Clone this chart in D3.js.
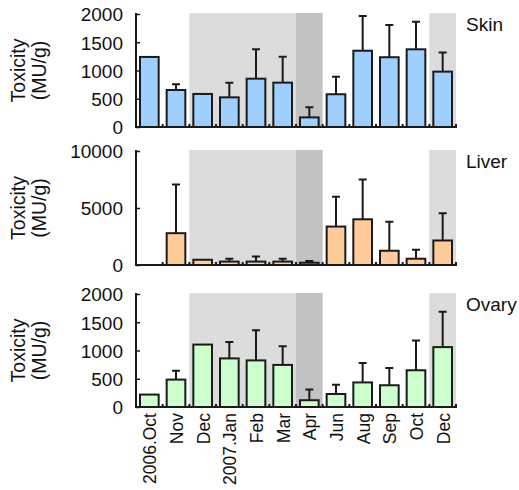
<!DOCTYPE html>
<html>
<head>
<meta charset="utf-8">
<title>Toxicity by month</title>
<script src="https://d3js.org/d3.v7.min.js"></script>
<style>
	body { margin:0; background:#fff; }
	svg text { font-family:"Liberation Sans", Arial, sans-serif; fill:#111; }
	.bar { stroke:#1a1a1a; stroke-width:2px; }
	.err { stroke:#1a1a1a; stroke-width:2px; fill:none; }
	.axisline { stroke:#1a1a1a; stroke-width:2px; }
</style>
</head>
<body>
<div class="chartContainer"></div>
<script>
// sampling months
var months = ["2006.Oct","Nov","Dec","2007.Jan","Feb","Mar","Apr","Jun","Aug","Sep","Oct","Dec"];
// keys are unique so the band scale keeps both "Oct" and both "Dec"
var monthKeys = months.map(function(m, i) { return i; });

// mean toxicity and SD (null = no error bar)
var skinMean  = [1240, 655, 585, 525, 855, 785, 170, 580, 1350, 1235, 1375, 980];
var skinSD    = [null, 100, null, 260, 520, 460, 180, 310, 615, 570, 490, 340];
var liverMean = [0, 2790, 460, 300, 300, 300, 200, 3370, 4010, 1250, 550, 2150];
var liverSD   = [null, 4270, null, 250, 450, 250, 150, 2610, 3490, 2550, 780, 2380];
var ovaryMean = [220, 485, 1105, 860, 825, 745, 120, 230, 435, 385, 650, 1060];
var ovarySD   = [null, 155, null, 290, 535, 330, 190, 165, 345, 305, 525, 625];

// shaded periods (index ranges in months), light and dark
var lightShade = [[2, 5], [11, 11]];
var darkShade  = [[6, 6]];

var panels = [
	{ name:"Skin",  mean:skinMean,  sd:skinSD,  max:2000,  ticks:[0,500,1000,1500,2000], fill:"#9fcfff", top:14,  bottom:127 },
	{ name:"Liver", mean:liverMean, sd:liverSD, max:10000, ticks:[0,5000,10000],         fill:"#ffcc99", top:151, bottom:265 },
	{ name:"Ovary", mean:ovaryMean, sd:ovarySD, max:2000,  ticks:[0,500,1000,1500,2000], fill:"#ccffcc", top:294, bottom:407 }
];

var width = 519, height = 490;
var svg = d3.select(".chartContainer").append("svg")
	.attr("width", width)
	.attr("height", height);

var x = d3.scaleBand()
	.domain(monthKeys)
	.range([136, 456])
	.paddingInner(0.3)
	.paddingOuter(0.15);
var step = x.step();
var bandStart = function(i) { return x(i) - step * x.paddingInner() / 2; };

panels.forEach(function(p, pi) {
	var y = d3.scaleLinear().domain([0, p.max]).range([p.bottom, p.top]);
	var g = svg.append("g");

	// background shading
	var shade = function(ranges, color) {
		g.selectAll(null).data(ranges).enter().append("rect")
			.attr("x", function(r) { return bandStart(r[0]); })
			.attr("width", function(r) { return bandStart(r[1]) + step - bandStart(r[0]); })
			.attr("y", y(p.max) - 1)
			.attr("height", y(0) - y(p.max) + 1)
			.attr("fill", color);
	};
	shade(lightShade, "#dcdcdc");
	shade(darkShade, "#c2c2c2");

	// error bars (upper only)
	var errs = monthKeys.filter(function(i) { return p.sd[i] != null; });
	g.selectAll(null).data(errs).enter().append("path")
		.attr("class", "err")
		.attr("d", function(i) {
			var cx = x(i) + x.bandwidth() / 2;
			var yt = y(p.mean[i] + p.sd[i]);
			return "M" + cx + "," + y(p.mean[i]) + "V" + yt + "M" + (cx - 4) + "," + yt + "H" + (cx + 4);
		});

	// bars
	var bars = monthKeys.filter(function(i) { return p.mean[i] > 0; });
	g.selectAll(null).data(bars).enter().append("rect")
		.attr("class", "bar")
		.attr("fill", p.fill)
		.attr("x", function(i) { return x(i); })
		.attr("width", x.bandwidth())
		.attr("y", function(i) { return y(p.mean[i]); })
		.attr("height", function(i) { return y(0) - y(p.mean[i]); });

	// y axis
	var yAxis = d3.axisLeft(y).tickValues(p.ticks).tickFormat(d3.format("d")).tickSize(-4).tickPadding(13);
	var ya = g.append("g")
		.attr("transform", "translate(136,0)")
		.call(yAxis);
	ya.select(".domain").remove();
	ya.selectAll(".tick line").attr("stroke", "#1a1a1a").attr("stroke-width", 1.5);
	ya.selectAll(".tick text").attr("font-size", 19).attr("fill", "#111").attr("dy", "0.36em");
	g.append("line").attr("class", "axisline")
		.attr("x1", 136).attr("x2", 136)
		.attr("y1", y(p.max) - 1).attr("y2", y(0) + 1);

	// x axis line with small boundary ticks
	g.append("line").attr("class", "axisline")
		.attr("x1", 135).attr("x2", 457)
		.attr("y1", y(0)).attr("y2", y(0));
	g.selectAll(null).data(monthKeys.slice(1).concat([12])).enter().append("line")
		.attr("stroke", "#1a1a1a").attr("stroke-width", 2)
		.attr("x1", function(i) { return bandStart(0) + i * step; })
		.attr("x2", function(i) { return bandStart(0) + i * step; })
		.attr("y1", y(0)).attr("y2", y(0) - 3);

	// axis title
	var cy = (p.top + p.bottom) / 2;
	var t = g.append("text")
		.attr("transform", "translate(30," + cy + ") rotate(-90)")
		.attr("text-anchor", "middle")
		.attr("font-size", 19.5);
	t.append("tspan").attr("x", 0).attr("dy", "-0.25em").text("Toxicity");
	t.append("tspan").attr("x", 0).attr("dy", "1.05em").text("(MU/g)");

	// panel name
	g.append("text")
		.attr("x", 466).attr("y", p.top + 17)
		.attr("font-size", 19)
		.text(p.name);

	// month labels under the last panel
	if (pi === panels.length - 1) {
		g.selectAll(null).data(monthKeys).enter().append("text")
			.attr("transform", function(i) {
				return "translate(" + (x(i) + x.bandwidth() / 2 + 7) + "," + (y(0) + 6) + ") rotate(-90)";
			})
			.attr("text-anchor", "end")
			.attr("font-size", 17.5)
			.text(function(i) { return months[i]; });
	}
});
</script>
</body>
</html>
